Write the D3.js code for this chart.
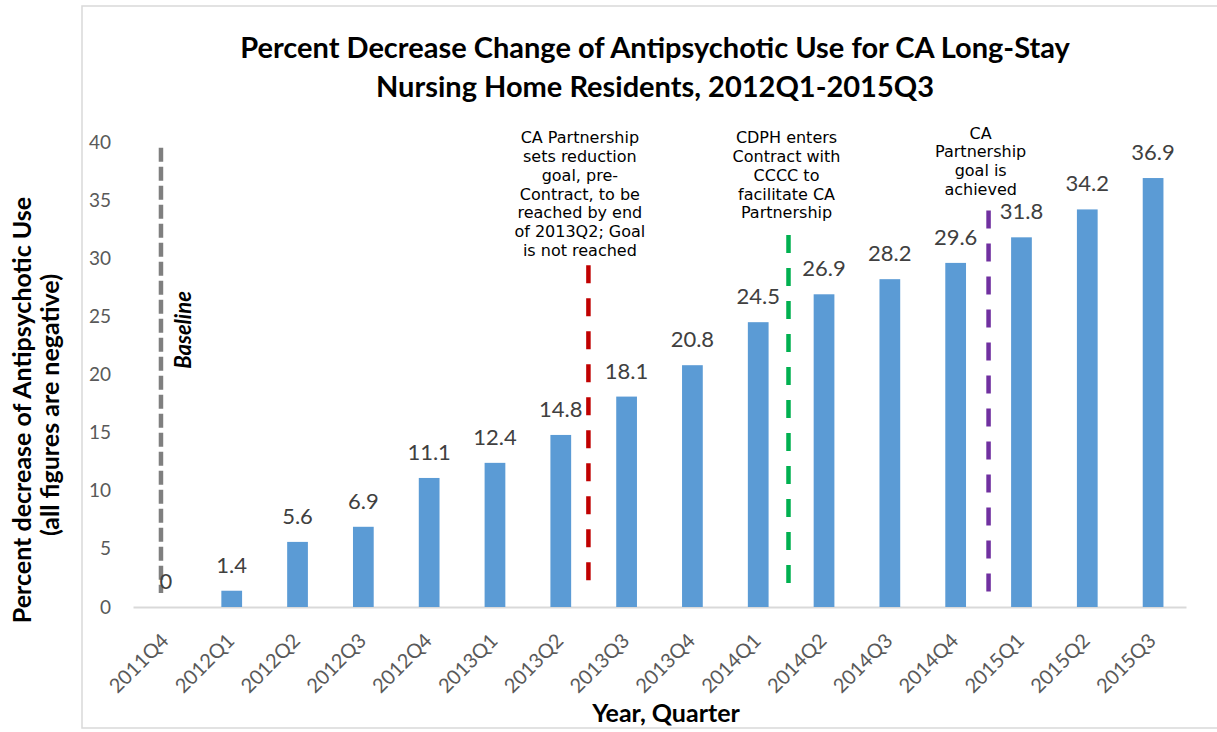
<!doctype html>
<html lang="en">
<head>
  <meta charset="utf-8">
  <title>Antipsychotic Use Decrease</title>
  <script src="https://d3js.org/d3.v7.min.js"></script>
  <style>
    body { margin: 0; background: #fff; }
    text { font-family: Lato, "Open Sans", sans-serif; }
  </style>
</head>
<body>
<div class="chart-container"></div>
<script>
  const quarters = ['2011Q4', '2012Q1', '2012Q2', '2012Q3', '2012Q4', '2013Q1', '2013Q2', '2013Q3',
    '2013Q4', '2014Q1', '2014Q2', '2014Q3', '2014Q4', '2015Q1', '2015Q2', '2015Q3'];
  const values = [0, 1.4, 5.6, 6.9, 11.1, 12.4, 14.8, 18.1, 20.8, 24.5, 26.9, 28.2, 29.6, 31.8, 34.2, 36.9];
  const yTicks = [0, 5, 10, 15, 20, 25, 30, 35, 40];

  // event markers: category, offset in steps, top value, colour
  const markers = [
    { at: '2011Q4', shift: -0.075, top: 39.5, colour: '#7f7f7f', dash: '14,5' },
    { at: '2013Q2', shift: 0.42, top: 29.4, colour: '#c00000', dash: '18,15' },
    { at: '2014Q1', shift: 0.46, top: 32.0, colour: '#00b050', dash: '18,15' },
    { at: '2014Q4', shift: 0.50, top: 34.1, colour: '#7030a0', dash: '18,15' }
  ];
  const notes = [
    { at: '2013Q2', shift: 0.29, top: 39.9,
      lines: ['CA Partnership', 'sets reduction', 'goal, pre-', 'Contract, to be', 'reached by end', 'of 2013Q2; Goal', 'is not reached'] },
    { at: '2014Q1', shift: 0.43, top: 39.9,
      lines: ['CDPH enters', 'Contract with', 'CCCC to', 'facilitate CA', 'Partnership'] },
    { at: '2014Q4', shift: 0.38, top: 40.3,
      lines: ['CA', 'Partnership', 'goal is', 'achieved'] }
  ];

  const width = 1217;
  const height = 732;
  const margin = { top: 142, right: 31, bottom: 125, left: 133 };

  const svg = d3.select('.chart-container').append('svg')
    .attr('width', width)
    .attr('height', height);

  // chart frame
  svg.append('rect')
    .attr('x', 82).attr('y', 6)
    .attr('width', 1150).attr('height', 722)
    .attr('fill', 'none')
    .attr('stroke', '#d9d9d9')
    .attr('stroke-width', 1.5);

  const x = d3.scaleBand()
    .domain(quarters)
    .range([margin.left, width - margin.right])
    .paddingInner(0.685)
    .paddingOuter(0.3425);

  const y = d3.scaleLinear()
    .domain([0, 40])
    .range([height - margin.bottom, margin.top]);

  const step = x.step();
  const cx = (q, shift) => x(q) + x.bandwidth() / 2 + shift * step;

  // title
  svg.append('text')
    .attr('x', 655).attr('y', 58)
    .attr('text-anchor', 'middle')
    .style('font-weight', 'bold').style('font-size', '29px')
    .text('Percent Decrease Change of Antipsychotic Use for CA Long-Stay');
  svg.append('text')
    .attr('x', 655).attr('y', 97)
    .attr('text-anchor', 'middle')
    .style('font-weight', 'bold').style('font-size', '29px')
    .text('Nursing Home Residents, 2012Q1-2015Q3');

  // y axis labels
  const yAxis = d3.axisLeft(y).tickValues(yTicks).tickSize(0).tickPadding(0);
  const yg = svg.append('g')
    .attr('transform', `translate(111,0)`)
    .call(yAxis);
  yg.select('.domain').remove();
  yg.selectAll('text')
    .style('font-size', '19px')
    .style('font-family', 'Lato, sans-serif')
    .attr('fill', '#595959');

  // x axis
  const xAxis = d3.axisBottom(x).tickSize(0).tickFormat('');
  const xg = svg.append('g')
    .attr('transform', `translate(0,${y(0)})`)
    .call(xAxis);
  xg.select('.domain')
    .attr('stroke', '#d9d9d9')
    .attr('stroke-width', 2);

  svg.selectAll('text.tickLabel')
    .data(quarters)
    .enter()
    .append('text')
    .attr('class', 'tickLabel')
    .attr('transform', d => `translate(${x(d) + x.bandwidth() / 2 + 4},${y(0) + 35}) rotate(-45)`)
    .attr('text-anchor', 'end')
    .style('font-size', '20px')
    .attr('fill', '#595959')
    .text(d => d);

  // bars
  svg.selectAll('rect.bar')
    .data(values)
    .enter()
    .append('rect')
    .attr('class', 'bar')
    .attr('x', (d, i) => x(quarters[i]))
    .attr('width', x.bandwidth())
    .attr('y', d => y(d))
    .attr('height', d => y(0) - y(d))
    .attr('fill', '#5b9bd5');

  // marker lines
  svg.selectAll('line.marker')
    .data(markers)
    .enter()
    .append('line')
    .attr('class', 'marker')
    .attr('x1', d => cx(d.at, d.shift))
    .attr('x2', d => cx(d.at, d.shift))
    .attr('y1', d => y(d.top))
    .attr('y2', y(1.2))
    .attr('stroke', d => d.colour)
    .attr('stroke-width', 4.5)
    .attr('stroke-dasharray', d => d.dash);

  // value labels
  svg.selectAll('text.valueLabel')
    .data(values)
    .enter()
    .append('text')
    .attr('class', 'valueLabel')
    .attr('x', (d, i) => x(quarters[i]) + x.bandwidth() / 2)
    .attr('y', d => y(d) - 18)
    .attr('text-anchor', 'middle')
    .style('font-size', '22px')
    .attr('fill', '#404040')
    .text(d => d3.format('')(d));

  // annotations (one text per line)
  notes.forEach(n => {
    svg.selectAll(null)
      .data(n.lines)
      .enter()
      .append('text')
      .attr('x', cx(n.at, n.shift))
      .attr('y', (l, i) => y(n.top) + i * 18.8)
      .attr('text-anchor', 'middle')
      .style('font-family', '"DejaVu Sans", sans-serif')
      .style('font-size', '16px')
      .attr('fill', '#000')
      .text(l => l);
  });

  svg.append('text')
    .attr('transform', `translate(191,330) rotate(-90)`)
    .attr('text-anchor', 'middle')
    .style('font-weight', 'bold').style('font-style', 'italic')
    .style('font-size', '22px')
    .text('Baseline');

  // axis titles
  svg.append('text')
    .attr('transform', `translate(31,410) rotate(-90)`)
    .attr('text-anchor', 'middle')
    .style('font-weight', 'bold').style('font-size', '25px')
    .text('Percent decrease of Antipsychotic Use');
  svg.append('text')
    .attr('transform', `translate(59,405) rotate(-90)`)
    .attr('text-anchor', 'middle')
    .style('font-weight', 'bold').style('font-size', '25px')
    .text('(all figures are negative)');

  svg.append('text')
    .attr('x', 666).attr('y', 722)
    .attr('text-anchor', 'middle')
    .style('font-weight', 'bold').style('font-size', '25px')
    .text('Year, Quarter');
</script>
</body>
</html>
